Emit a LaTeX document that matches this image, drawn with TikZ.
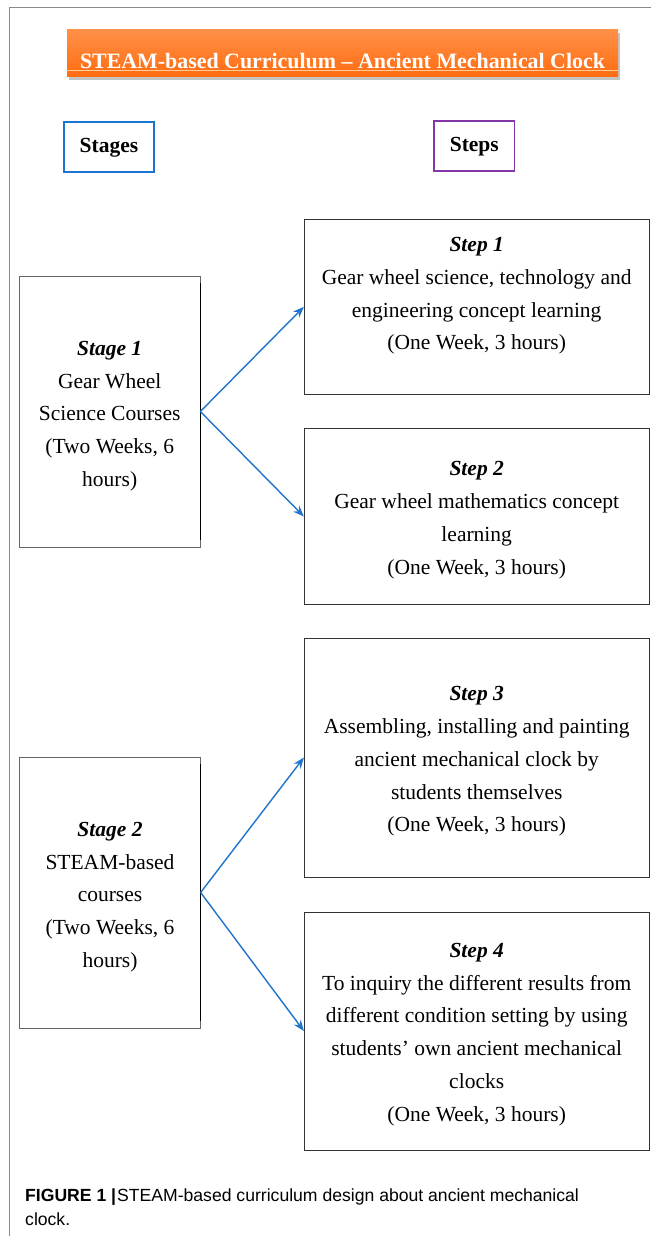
\documentclass[tikz,border=0pt]{standalone}
\usepackage{fontspec}
\setmainfont{Liberation Serif}
\newfontfamily\capfont{Liberation Sans}
\usetikzlibrary{arrows.meta,shadows,calc}
\definecolor{arrowblue}{HTML}{1F74CC}
\definecolor{stageblue}{HTML}{1C74D2}
\definecolor{steppurple}{HTML}{8236A8}
\definecolor{framegray}{HTML}{8A8A8A}
\definecolor{otop}{HTML}{FF9048}
\definecolor{obot}{HTML}{FF6C10}
\begin{document}
\begin{tikzpicture}[x=1pt,y=-1pt,
  body/.style={font=\fontsize{21.5}{32.8}\selectfont, align=center, inner sep=0pt},
  stepbox/.style={draw=black!80, line width=0.9pt, minimum width=344.7pt, inner sep=0pt},
  stagebox/.style={draw=black!60, line width=0.8pt, minimum width=180.5pt, minimum height=271pt, inner sep=0pt},
  headbox/.style={line width=1.6pt, inner sep=0pt, font=\bfseries\fontsize{21.5}{26}\selectfont},
  arr/.style={draw=arrowblue, line width=1.4pt, -{Stealth[length=11pt,width=8.5pt]}},
  captext/.style={anchor=base west, inner sep=0pt, font=\capfont\fontsize{17.6}{24}\selectfont}
]
\useasboundingbox (0,0) rectangle (651,1236);
\fill[white] (0,0) rectangle (651,1236);
\draw[framegray, line width=1pt] (651,7.5) -- (9,7.5) -- (9,1236);

% title
\node[minimum width=551pt, minimum height=47pt, inner sep=0pt, top color=otop, bottom color=obot,
      drop shadow={shadow xshift=1.5pt, shadow yshift=-3pt, opacity=0.45}] (title) at (342.5,53.5) {};
\draw[orange!40!white, line width=0.6pt] ([yshift=-17.2pt]title.west) -- ([yshift=-17.2pt]title.east);
\node[anchor=base, inner sep=0pt, text=white, font=\bfseries\fontsize{21.9}{26}\selectfont] (titletext) at (342.5,68.5)
  {STEAM-based Curriculum – Ancient Mechanical Clock};

% headers
\node[headbox, draw=stageblue, minimum width=90pt, minimum height=50pt] (stages) at (109,147) {};
\node[headbox, anchor=base] (stagest) at (109,152) {Stages};
\node[headbox, draw=steppurple, minimum width=80.5pt, minimum height=50pt] (steps) at (474.3,146) {};
\node[headbox, anchor=base] (stepst) at (474.3,151) {Steps};

% stages
\node[stagebox] (st1) at (109.7,411.5) {};
\node[body] (st1t) at ($(st1.center)+(0,4.5)$)
  {\textbf{\textit{Stage 1}}\\Gear Wheel\\Science Courses\\(Two Weeks, 6\\hours)};
\draw[black, line width=1.6pt] ([yshift=-7pt]st1.north east) -- ([yshift=7pt]st1.south east);
\node[stagebox] (st2) at (110,892.5) {};
\node[body] (st2t) at ($(st2.center)+(0,4.5)$)
  {\textbf{\textit{Stage 2}}\\STEAM-based\\courses\\(Two Weeks, 6\\hours)};
\draw[black, line width=1.6pt] ([yshift=-7pt]st2.north east) -- ([yshift=7pt]st2.south east);

% steps
\node[stepbox, minimum height=175pt] (s1) at (476.7,306.8) {};
\node[body] (s1t) at ($(s1.center)+(0,-11)$)
  {\textbf{\textit{Step 1}}\\Gear wheel science, technology and\\engineering concept learning\\(One Week, 3 hours)};
\node[stepbox, minimum height=175.6pt] (s2) at (476.7,516.5) {};
\node[body] (s2t) at ($(s2.center)+(0,3.5)$)
  {\textbf{\textit{Step 2}}\\Gear wheel mathematics concept\\learning\\(One Week, 3 hours)};
\node[stepbox, minimum height=239pt] (s3) at (476.7,757.5) {};
\node[body] (s3t) at ($(s3.center)+(0,4)$)
  {\textbf{\textit{Step 3}}\\Assembling, installing and painting\\ancient mechanical clock by\\students themselves\\(One Week, 3 hours)};
\node[stepbox, minimum height=238pt] (s4) at (476.7,1031) {};
\node[body] (s4t) at ($(s4.center)+(0,3.5)$)
  {\textbf{\textit{Step 4}}\\To inquiry the different results from\\different condition setting by using\\students’ own ancient mechanical\\clocks\\(One Week, 3 hours)};

% arrows
\draw[arr] (st1.east) -- (s1.west);
\draw[arr] (st1.east) -- (s2.west);
\draw[arr] (st2.east) -- (s3.west);
\draw[arr] (st2.east) -- (s4.west);

% caption
\node[captext] (cap1) at (25,1201) {\textbf{FIGURE 1 |}\kern1pt STEAM-based curriculum design about ancient mechanical};
\node[captext] (cap2) at (25,1225.5) {clock.};
\end{tikzpicture}
\end{document}
